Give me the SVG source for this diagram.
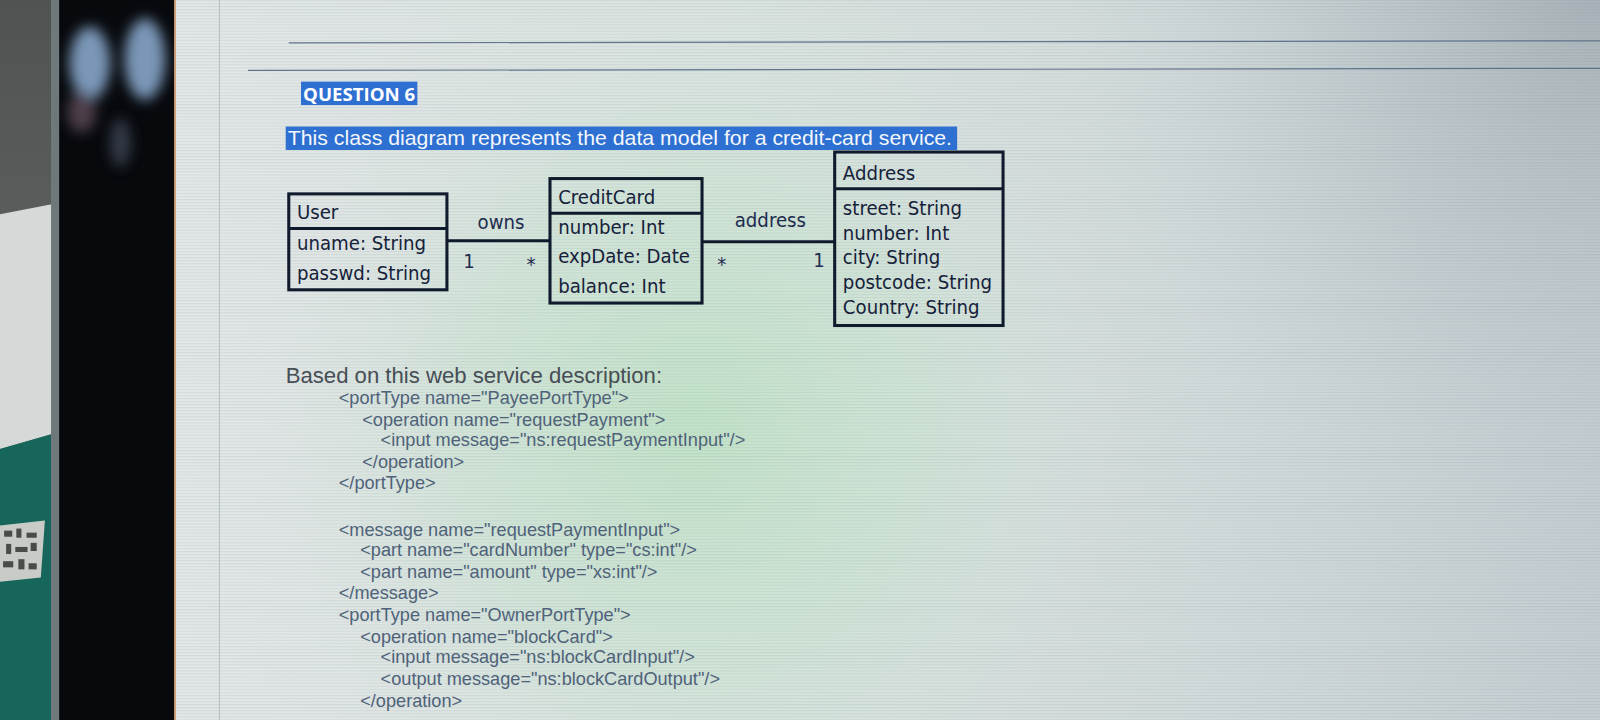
<svg xmlns="http://www.w3.org/2000/svg" width="1600" height="720" viewBox="0 0 1600 720">
<defs>
<linearGradient id="scr" x1="0" y1="0" x2="1" y2="0">
<stop offset="0" stop-color="#e2e7e7"/>
<stop offset="0.4" stop-color="#dae4e0"/>
<stop offset="0.7" stop-color="#d3dcdc"/>
<stop offset="1" stop-color="#c4ced2"/>
</linearGradient>
<radialGradient id="moire" cx="680" cy="420" r="430" gradientUnits="userSpaceOnUse">
<stop offset="0" stop-color="#c2e3c8" stop-opacity="1"/>
<stop offset="0.55" stop-color="#cbe4d2" stop-opacity="0.6"/>
<stop offset="1" stop-color="#dbe4e1" stop-opacity="0"/>
</radialGradient>
<radialGradient id="tr" cx="1568" cy="0" r="520" gradientUnits="userSpaceOnUse">
<stop offset="0" stop-color="#9eaab0" stop-opacity="0.75"/>
<stop offset="1" stop-color="#c4ced2" stop-opacity="0"/>
</radialGradient>
<linearGradient id="wall" x1="0" y1="0" x2="0" y2="1">
<stop offset="0" stop-color="#4f5452"/>
<stop offset="1" stop-color="#6f7472"/>
</linearGradient>
<pattern id="scan" width="6" height="3" patternUnits="userSpaceOnUse">
<rect x="0" y="0" width="6" height="1" fill="#6f7f88" opacity="0.12"/>
</pattern>
<filter id="blur" x="-50%" y="-50%" width="200%" height="200%"><feGaussianBlur stdDeviation="6"/></filter>
<style>
.box{fill:none;stroke:#0f1a2c;stroke-width:3}
.uml{font-family:"DejaVu Sans Condensed","Liberation Sans",sans-serif;font-size:19.8px;fill:#16213a}
.lbl{font-family:"DejaVu Sans Condensed","Liberation Sans",sans-serif;font-size:19.8px;fill:#1e2c4e}
.code{font-family:"Liberation Sans",Arial,sans-serif;font-size:17.8px;fill:#4f6279}
.hl{fill:#2e70d1}
.conn{stroke:#0f1a2c;stroke-width:3;fill:none}
</style>
</defs>
<g transform="scale(1.0204)">
<!-- room at left -->
<rect x="0" y="0" width="52" height="706" fill="url(#wall)"/>
<polygon points="0,210 52,200 52,425 0,440" fill="#d5d9d8"/>
<polygon points="0,440 52,425 52,706 0,706" fill="#16665b"/>
<polygon points="0,515 44,510 40,566 0,570" fill="#c9ccc6"/>
<g fill="#2b2d2c" opacity="0.8">
<rect x="4" y="520" width="8" height="6"/><rect x="16" y="518" width="5" height="9"/><rect x="26" y="522" width="10" height="5"/>
<rect x="6" y="533" width="5" height="10"/><rect x="15" y="536" width="12" height="5"/><rect x="30" y="532" width="6" height="8"/>
<rect x="3" y="550" width="10" height="6"/><rect x="18" y="548" width="6" height="10"/><rect x="28" y="552" width="8" height="6"/>
</g>
<rect x="50" y="0" width="9" height="706" fill="#6f797c"/>
<rect x="58" y="0" width="113" height="706" fill="#07090d"/>
<g filter="url(#blur)" opacity="0.85">
<ellipse cx="88" cy="62" rx="20" ry="36" fill="#8fb0d6"/>
<ellipse cx="142" cy="58" rx="20" ry="40" fill="#8fb0d6"/>
<ellipse cx="80" cy="110" rx="14" ry="20" fill="#5a4a55"/>
<ellipse cx="118" cy="140" rx="10" ry="24" fill="#3c4552"/>
</g>
<!-- screen -->
<rect x="171" y="0" width="1397" height="706" fill="url(#scr)"/>
<rect x="171" y="0" width="1397" height="706" fill="url(#moire)"/>
<rect x="171" y="0" width="1397" height="706" fill="url(#tr)"/>
<rect x="171" y="0" width="1397" height="706" fill="url(#scan)"/>
<line x1="171.5" y1="0" x2="171.5" y2="706" stroke="#c98a5a" stroke-width="1.5"/>
<line x1="215" y1="0" x2="215" y2="706" stroke="#b4bec3" stroke-width="1"/>
<line x1="283" y1="42" x2="1568" y2="40" stroke="#5f7389" stroke-width="1.2"/>
<line x1="243" y1="69" x2="1568" y2="67" stroke="#5f7389" stroke-width="1.2"/>
<!-- heading -->
<rect class="hl" x="295" y="80" width="114" height="23"/>
<text x="297" y="99" font-family="'Open Sans','Liberation Sans',sans-serif" font-weight="bold" font-size="18" fill="#ffffff" textLength="110" lengthAdjust="spacingAndGlyphs">QUESTION 6</text>
<rect class="hl" x="280" y="124" width="658" height="23"/>
<text x="282" y="142" font-family="'Liberation Sans',Arial,sans-serif" font-size="19" fill="#f4f7fb" textLength="651" lengthAdjust="spacingAndGlyphs">This class diagram represents the data model for a credit-card service.</text>
<!-- connectors -->
<g id="connectors">
<line class="conn" x1="438" y1="236" x2="539" y2="236"/>
<line class="conn" x1="688" y1="237" x2="818" y2="237"/>
<text class="lbl" x="468" y="224">owns</text>
<text class="lbl" x="454" y="263">1</text>
<text class="lbl" x="516" y="266">*</text>
<text class="lbl" x="720" y="222" fill="#2a3a66">address</text>
<text class="lbl" x="703" y="266">*</text>
<text class="lbl" x="797" y="262">1</text>
</g>
<!-- nodes -->
<g id="user">
<rect class="box" x="283" y="190" width="155" height="94"/>
<line class="conn" x1="283" y1="224" x2="438" y2="224"/>
<text class="uml" x="291" y="215">User</text>
<text class="uml" x="291" y="245">uname: String</text>
<text class="uml" x="291" y="274">passwd: String</text>
</g>
<g id="creditcard">
<rect class="box" x="539" y="175" width="149" height="122"/>
<line class="conn" x1="539" y1="209" x2="688" y2="209"/>
<text class="uml" x="547" y="200">CreditCard</text>
<text class="uml" x="547" y="229">number: Int</text>
<text class="uml" x="547" y="258">expDate: Date</text>
<text class="uml" x="547" y="287">balance: Int</text>
</g>
<g id="address">
<rect class="box" x="818" y="149" width="165" height="170"/>
<line class="conn" x1="818" y1="185" x2="983" y2="185"/>
<text class="uml" x="826" y="176">Address</text>
<text class="uml" x="826" y="211">street: String</text>
<text class="uml" x="826" y="235">number: Int</text>
<text class="uml" x="826" y="259">city: String</text>
<text class="uml" x="826" y="283">postcode: String</text>
<text class="uml" x="826" y="308">Country: String</text>
</g>
<!-- web service description -->
<text x="280" y="375" font-family="'Liberation Sans',Arial,sans-serif" font-size="21.7" fill="#474d55">Based on this web service description:</text>
<g class="code">
<text x="332" y="396">&lt;portType name="PayeePortType"&gt;</text>
<text x="355" y="417">&lt;operation name="requestPayment"&gt;</text>
<text x="373" y="437">&lt;input message="ns:requestPaymentInput"/&gt;</text>
<text x="355" y="459">&lt;/operation&gt;</text>
<text x="332" y="479">&lt;/portType&gt;</text>
<text x="332" y="525">&lt;message name="requestPaymentInput"&gt;</text>
<text x="353" y="545">&lt;part name="cardNumber" type="cs:int"/&gt;</text>
<text x="353" y="566">&lt;part name="amount" type="xs:int"/&gt;</text>
<text x="332" y="587">&lt;/message&gt;</text>
<text x="332" y="609">&lt;portType name="OwnerPortType"&gt;</text>
<text x="353" y="630">&lt;operation name="blockCard"&gt;</text>
<text x="373" y="650">&lt;input message="ns:blockCardInput"/&gt;</text>
<text x="373" y="671">&lt;output message="ns:blockCardOutput"/&gt;</text>
<text x="353" y="693">&lt;/operation&gt;</text>
</g>
</g>
</svg>
